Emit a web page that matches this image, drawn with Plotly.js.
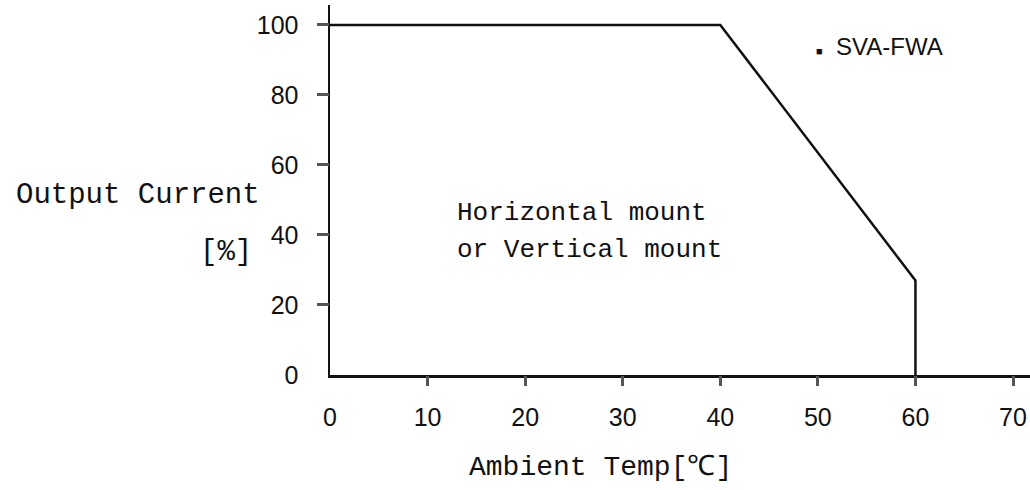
<!DOCTYPE html>
<html>
<head>
<meta charset="utf-8">
<script src="https://cdn.plot.ly/plotly-3.0.1.min.js"></script>
<style>html,body{margin:0;padding:0;background:#fff;}#chart{width:1030px;height:490px;}</style>
</head>
<body>
<div id="chart"></div>
<script>
const tempC = [0, 40, 60, 60];
const outputPct = [100, 100, 27, 0];
const xTicks = [0, 10, 20, 30, 40, 50, 60, 70];
const yTicks = [0, 20, 40, 60, 80, 100];
const seriesName = "SVA-FWA";
const xTitle = "Ambient Temp[℃]";
const yTitleLines = ["Output Current", "[%]"];
const noteLines = ["Horizontal mount", "or Vertical mount"];

const L = 330, T = 5, W = 700, H = 370;
const X_MAX = 71.74, Y_MAX = 105.7;
const px = x => (x - L) / W;
const py = y => (T + H - y) / H;
const mono = "Liberation Mono, DejaVu Sans Mono, monospace";
const sans = "Liberation Sans, Arial, sans-serif";

const trace = {
  x: tempC, y: outputPct, type: "scatter", mode: "lines",
  line: {color: "#111", width: 2.5}, showlegend: false, hoverinfo: "skip"
};
// invisible trace so the tick-only overlay axes are drawn
const tickTrace = {
  x: [tempC[0]], y: [outputPct[0]], xaxis: "x2", yaxis: "y2", type: "scatter", mode: "markers",
  marker: {opacity: 0}, showlegend: false, hoverinfo: "skip"
};

const tickStyle = {ticks: "outside", tickwidth: 3, tickcolor: "#555", showticklabels: false,
  showgrid: false, zeroline: false, showline: false};

const layout = {
  width: 1030, height: 490,
  margin: {l: L, r: 1030 - L - W, t: T, b: 490 - T - H, pad: 0},
  paper_bgcolor: "#fff", plot_bgcolor: "#fff",
  showlegend: false,
  xaxis: {
    range: [0, X_MAX], tickvals: xTicks, ticktext: xTicks.map(String),
    showline: true, linecolor: "#111", linewidth: 2.5,
    ticks: "", ticklabelstandoff: 18,
    showgrid: false, zeroline: false,
    tickfont: {family: sans, size: 25, color: "#111"}
  },
  yaxis: {
    range: [0, Y_MAX], tickvals: yTicks, ticktext: yTicks.map(String),
    showline: true, linecolor: "#111", linewidth: 2.5,
    ticks: "", ticklabelstandoff: 24,
    showgrid: false, zeroline: false,
    tickfont: {family: sans, size: 25, color: "#111"}
  },
  xaxis2: Object.assign({overlaying: "x", anchor: "y2", side: "bottom", range: [0, X_MAX],
    tickvals: xTicks.slice(1), ticklen: 10}, tickStyle),
  yaxis2: Object.assign({overlaying: "y", anchor: "x2", side: "left", range: [0, Y_MAX],
    tickvals: yTicks.slice(1), ticklen: 12}, tickStyle),
  annotations: [
    {xref: "paper", yref: "paper", x: px(600), y: py(467), text: xTitle, showarrow: false,
     xanchor: "center", yanchor: "middle", font: {family: mono, size: 28, color: "#111"}},
    {xref: "paper", yref: "paper", x: px(262), y: py(195), text: yTitleLines[0], showarrow: false,
     xanchor: "right", yanchor: "middle", font: {family: mono, size: 29, color: "#111"}},
    {xref: "paper", yref: "paper", x: px(254), y: py(252), text: yTitleLines[1], showarrow: false,
     xanchor: "right", yanchor: "middle", font: {family: mono, size: 29, color: "#111"}},
    {xref: "paper", yref: "paper", x: px(455), y: py(213), text: noteLines[0], showarrow: false,
     xanchor: "left", yanchor: "middle", font: {family: mono, size: 26, color: "#111"}},
    {xref: "paper", yref: "paper", x: px(455), y: py(250), text: noteLines[1], showarrow: false,
     xanchor: "left", yanchor: "middle", font: {family: mono, size: 26, color: "#111"}},
    {xref: "paper", yref: "paper", x: px(814), y: py(47),
     text: "<span style='font-size:11px'>■</span>  " + seriesName, showarrow: false,
     xanchor: "left", yanchor: "middle", font: {family: sans, size: 24, color: "#111"}}
  ]
};

Plotly.newPlot("chart", [trace, tickTrace], layout, {staticPlot: true, displayModeBar: false});
</script>
</body>
</html>
